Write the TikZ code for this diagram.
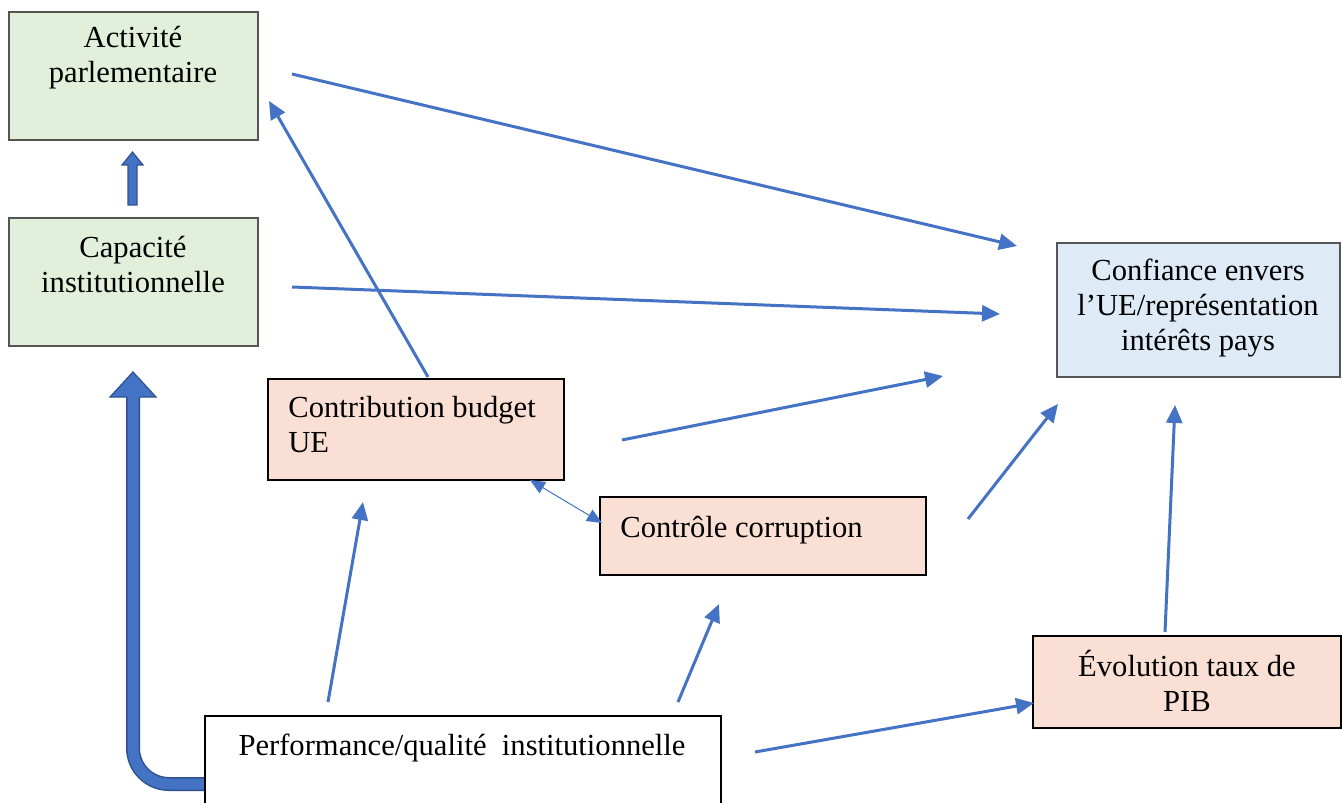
\documentclass[tikz,border=0pt]{standalone}
\usepackage{fontspec}
\setmainfont{Liberation Serif}
\usetikzlibrary{arrows.meta}
\definecolor{arr}{HTML}{4472C4}
\definecolor{arrd}{HTML}{2F528F}
\definecolor{gfill}{HTML}{E2EFDA}
\definecolor{bfill}{HTML}{DEEBF7}
\definecolor{sfill}{HTML}{FADFD4}
\definecolor{gborder}{HTML}{555555}
\begin{document}
\begin{tikzpicture}[x=0.5pt,y=-0.5pt,
  box/.style={anchor=north west, inner sep=0pt, outer sep=0pt, line width=0.6pt},
  greenbox/.style={box, draw=gborder, fill=gfill},
  bluebox/.style={box, draw=gborder, fill=bfill},
  salmonbox/.style={box, draw=black, fill=sfill},
  whitebox/.style={box, draw=black, fill=white},
  txt/.style={inner sep=0pt, font=\fontsize{15.3}{17.5}\selectfont, align=center},
  ltxt/.style={inner sep=0pt, font=\fontsize{15.3}{17.5}\selectfont, align=left, anchor=west},
  link/.style={draw=arr, line width=1.5pt, -{Triangle[length=9pt,width=8pt]}},
  thin/.style={draw=arr, line width=0.5pt, {Triangle[length=7.5pt,width=6.5pt]}-{Triangle[length=7.5pt,width=6.5pt]}}
]
\clip (0,0) rectangle (1342,802);
\fill[white] (0,0) rectangle (1342,802);

% big bent block arrow (behind the performance box)
\coordinate (bA) at (215,784);
\coordinate (bB) at (133,784);
\coordinate (bC) at (133,397);
\draw[arrd, line width=7pt, rounded corners=18pt] (bA) -- (bB) -- (bC);
\draw[arr, line width=5.5pt, rounded corners=18pt] (bA) -- (bB) -- (bC);
\fill[arr] (126,397) -- (110,397) -- (133,372) -- (156,397) -- (140,397);
\draw[arrd, line width=0.6pt] (126,397) -- (110,397) -- (133,372) -- (156,397) -- (140,397);

% boxes
\node[greenbox, minimum width=124.5pt, minimum height=64pt] (act) at (9,12) {};
\node[greenbox, minimum width=124.5pt, minimum height=64pt] (cap) at (9,218) {};
\node[bluebox, minimum width=141.5pt, minimum height=67pt] (conf) at (1057,243) {};
\node[salmonbox, minimum width=148pt, minimum height=50.5pt] (contrib) at (268,379) {};
\node[salmonbox, minimum width=163pt, minimum height=39pt] (ctrl) at (600,497) {};
\node[salmonbox, minimum width=154pt, minimum height=46pt] (evol) at (1033,636) {};
\node[whitebox, minimum width=258pt, minimum height=46pt] (perf) at (205,716) {};

% texts
\node[txt] (actT) at (133,58) {Activité\\parlementaire};
\node[txt] (capT) at (133,265) {Capacité\\institutionnelle};
\node[txt] (confT) at (1198,308) {Confiance envers\\l’UE/représentation\\intérêts pays};
\node[ltxt] (contribT) at (288,425) {Contribution budget\\UE};
\node[ltxt] (ctrlT) at (620,530) {Contrôle corruption};
\node[txt] (evolT) at (1187,681) {Évolution taux de\\PIB};
\node[txt] (perfT) at (462,748) {Performance/qualité~~institutionnelle};

% small block arrow Capacite -> Activite
\filldraw[fill=arr, draw=arrd, line width=0.6pt] (128,205) -- (128,165) -- (122,165) -- (132.5,152) -- (143,165) -- (137,165) -- (137,205) -- cycle;

% connectors
\coordinate (a1s) at (292,74);   \coordinate (a1e) at (1017,246);
\coordinate (a2s) at (292,287);  \coordinate (a2e) at (1000,314);
\coordinate (a3s) at (428,377);  \coordinate (a3e) at (269,101);
\coordinate (a4s) at (622,440);  \coordinate (a4e) at (943,376);
\coordinate (a5s) at (968,519);  \coordinate (a5e) at (1058,404);
\coordinate (a6s) at (1165,632); \coordinate (a6e) at (1175,405);
\coordinate (a7s) at (755,752);  \coordinate (a7e) at (1034,703);
\coordinate (a8s) at (328,702);  \coordinate (a8e) at (363,502);
\coordinate (a9s) at (678,702);  \coordinate (a9e) at (719,604);
\coordinate (dA) at (530,480);   \coordinate (dB) at (602,523);

\draw[link] (a1s) -- (a1e);
\draw[link] (a2s) -- (a2e);
\draw[link] (a3s) -- (a3e);
\draw[link] (a4s) -- (a4e);
\draw[link] (a5s) -- (a5e);
\draw[link] (a6s) -- (a6e);
\draw[link] (a7s) -- (a7e);
\draw[link] (a8s) -- (a8e);
\draw[link] (a9s) -- (a9e);
\draw[thin] (dA) -- (dB);
\end{tikzpicture}
\end{document}
